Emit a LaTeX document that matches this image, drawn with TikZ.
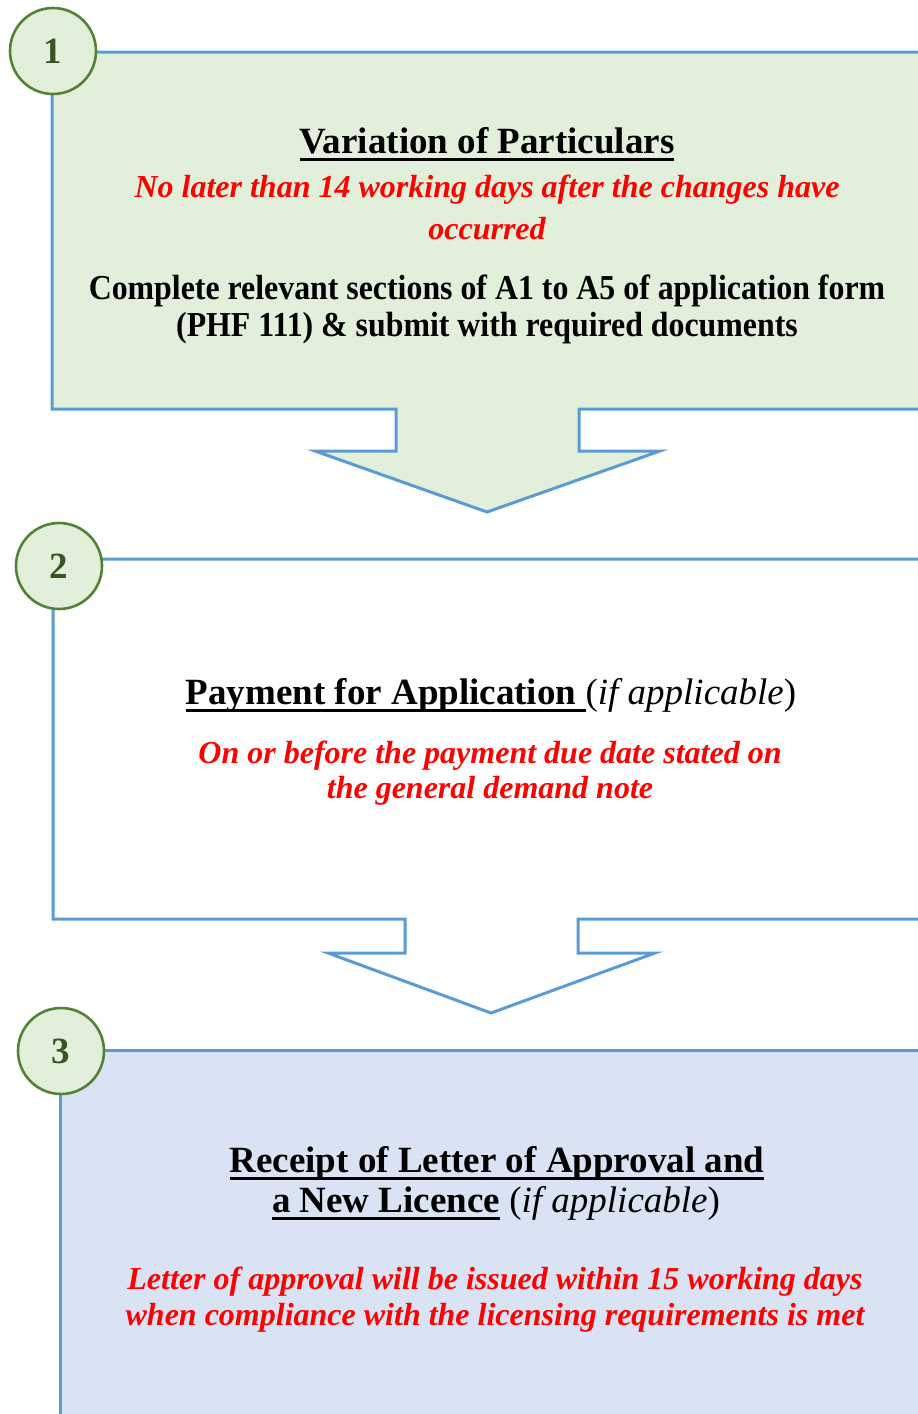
\documentclass[tikz,border=0pt]{standalone}
\usepackage{fontspec}
\setmainfont{Liberation Serif}
\newfontfamily\narrowserif{Liberation Serif}[FakeStretch=0.91]
\usetikzlibrary{positioning}
\definecolor{leaf}{HTML}{E2EFDA}
\definecolor{sky}{HTML}{DAE3F3}
\definecolor{edge}{HTML}{5B9BD5}
\definecolor{moss}{HTML}{548235}
\definecolor{forest}{HTML}{375623}
\tikzset{
  panel/.style={draw=edge,line width=3pt,fill=#1,line join=miter},
  panel/.default=white,
  badge/.style={circle,draw=moss,line width=2.6pt,fill=leaf,minimum size=86pt,
    inner sep=0pt,text=forest,font=\fontsize{37}{40}\selectfont\bfseries},
  title/.style={anchor=base,inner sep=0pt,font=\fontsize{37}{42}\selectfont\bfseries},
  due/.style={anchor=base,inner sep=0pt,text=red,font=\fontsize{32}{38}\selectfont\bfseries\itshape},
  task/.style={anchor=base,inner sep=0pt,font=\narrowserif\fontsize{35}{38}\selectfont\bfseries},
}
\newsavebox\headbox
\newcommand{\underhead}[1]{\sbox\headbox{#1}\rlap{\rule[-8pt]{\wd\headbox}{3pt}}\usebox\headbox}
\newcommand{\ifapp}{\textmd{(\textit{if applicable})}}

\begin{document}
\begin{tikzpicture}[x=1pt,y=-1pt]
  \useasboundingbox (0,0) rectangle (918,1414);
  \clip (0,0) rectangle (918,1414);
  % panels with their down arrows
  \draw[panel=leaf] (52,52) -- (940,52) -- (940,409) -- (579,409) -- (579,451) -- (660,451)
    -- (487,512) -- (315,451) -- (396,451) -- (396,409) -- (52,409) -- cycle;
  \draw[panel] (53,559) -- (940,559) -- (940,919) -- (578,919) -- (578,953) -- (655,953)
    -- (491,1013) -- (328,953) -- (405,953) -- (405,919) -- (53,919) -- cycle;
  \draw[panel=sky] (60,1050) -- (940,1050) -- (940,1440) -- (60,1440) -- cycle;
  % step numbers
  \foreach \x/\y/\n [count=\i] in {53/51/1,59/566/2,61/1051/3}
    \node[badge] (step\i) at (\x,\y) {\n};
  % step 1
  \node[title] (head1) at (487,153) {\underhead{Variation of Particulars}};
  \node[due] (due1a) at (487,197) {No later than 14 working days after the changes have};
  \node[due] (due1b) at (487,239) {occurred};
  \node[task] (task1a) at (487,299) {Complete relevant sections of A1 to A5 of application form};
  \node[task] (task1b) at (487,336) {(PHF 111) \& submit with required documents};
  % step 2
  \node[title] (head2) at (491,704) {\underhead{Payment for Application }\ifapp};
  \node[due] (due2a) at (490,763) {On or before the payment due date stated on};
  \node[due] (due2b) at (490,798) {the general demand note};
  % step 3
  \node[title] (head3a) at (497,1172) {\underhead{Receipt of Letter of Approval and}};
  \node[title] (head3b) at (496,1212) {\underhead{a New Licence} \ifapp};
  \node[due] (due3a) at (495,1289) {Letter of approval will be issued within 15 working days};
  \node[due] (due3b) at (495,1325) {when compliance with the licensing requirements is met};
\end{tikzpicture}
\end{document}
